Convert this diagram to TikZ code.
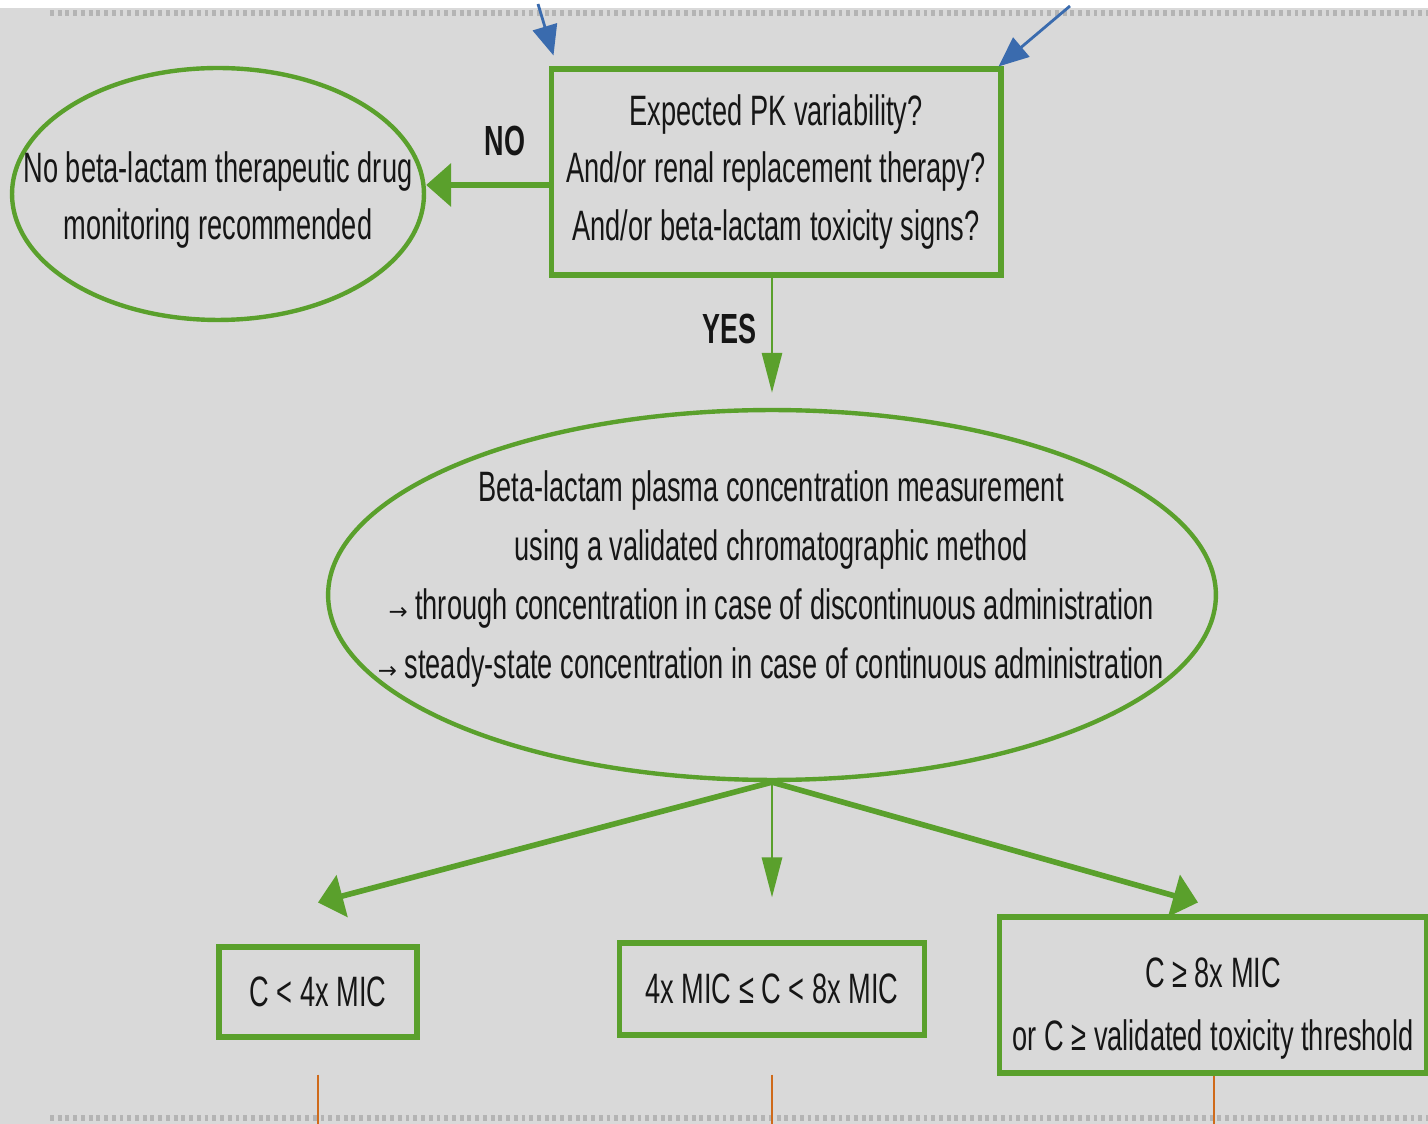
\documentclass[tikz,border=0pt]{standalone}
\usepackage{fontspec}
\setmainfont[FakeStretch=0.64]{Liberation Sans}
\newfontfamily\arrowfont{DejaVu Sans}
\usepackage{tikz}
\usetikzlibrary{shapes.geometric,arrows.meta,positioning,calc}
\definecolor{grn}{HTML}{5AA02C}
\definecolor{bg}{HTML}{D9D9D9}
\definecolor{dots}{HTML}{B4B4B4}
\definecolor{blu}{HTML}{3A6BAE}
\definecolor{org}{HTML}{CF6A1A}
\definecolor{ink}{HTML}{161616}
\newcommand{\ra}{{\arrowfont\fontsize{13}{13}\selectfont →}}

\begin{document}
\begin{tikzpicture}[x=0.02cm,y=-0.02cm,
  t/.style={font=\fontsize{24.2}{32.5}\selectfont,align=center,text=ink},
  q/.style={t,draw=grn,line width=2.9pt,inner sep=0pt},
  oval/.style={ellipse,draw=grn,line width=2.5pt,inner sep=0pt},
  yn/.style={font=\fontsize{24}{26}\selectfont\bfseries,text=ink},
  g/.style={draw=grn,line width=3.2pt,-{Triangle[length=0.5cm,width=0.85cm]}},
  gthin/.style={draw=grn,line width=1.6pt,-{Triangle[length=0.8cm,width=0.4cm]}},
  b/.style={draw=blu,line width=1.6pt,-{Triangle[length=0.6cm,width=0.5cm]}},
  o/.style={draw=org,line width=1.2pt},
  dotline/.style={draw=dots,line width=3.4pt,dash pattern=on 2.2pt off 2.2pt}]

\useasboundingbox (0,0) rectangle (1428,1124);
\fill[white] (0,0) rectangle (1428,8);
\fill[bg] (0,8) rectangle (1428,1124);
\draw[dotline] (50,13) -- (1428,13);
\draw[dotline] (50,1118) -- (1428,1118);

\node[q,minimum width=9cm,minimum height=4.12cm] (ask) at (776,172)
  {Expected PK variability?\\And/or renal replacement therapy?\\And/or beta-lactam toxicity signs?};

\node[oval,minimum width=8.24cm,minimum height=5.04cm] (no) at (218,194) {};
\node[t] (notxt) at (218,200) {No beta-lactam therapeutic drug\\monitoring recommended};

\node[oval,minimum width=17.76cm,minimum height=7.4cm] (tdm) at (772,595) {};
\node[t,font=\fontsize{24.2}{33.5}\selectfont] (tdmtxt) at (771,579)
  {Beta-lactam plasma concentration measurement\\
   using a validated chromatographic method\\
   \ra\ through concentration in case of discontinuous administration\\
   \ra\ steady-state concentration in case of continuous administration};

\node[q,minimum width=3.96cm,minimum height=1.8cm] (lo) at (318,992) {C < 4x MIC};
\node[q,minimum width=6.1cm,minimum height=1.84cm] (mid) at (772,989) {4x MIC ≤ C < 8x MIC};
\node[q,minimum width=8.56cm,minimum height=3.12cm,font=\fontsize{24.2}{36}\selectfont] (hi) at (1213,995)
  {\\[-4pt]C ≥ 8x MIC\\or C ≥ validated toxicity threshold};

\node[yn] (nolbl) at (505,141) {NO};
\node[yn] (yeslbl) at (729,329) {YES};

\draw[g] ([yshift=-0.26cm]ask.west) -- ([yshift=-0.26cm]ask.west -| no.east);
\draw[gthin] (ask.south -| tdm.north) -- ([yshift=0.3cm]tdm.north);
\draw[g] (tdm.south) -- ([yshift=0.84cm]lo.north);
\draw[gthin] (tdm.south) -- ([yshift=0.86cm]mid.north);
\draw[g] (tdm.south) -- ([xshift=-0.3cm,yshift=0.24cm]hi.north);

\coordinate (in1) at (538,4);
\coordinate (in2) at (1070,6);
\draw[b] (in1) -- ([xshift=0.1cm,yshift=0.22cm]ask.north west);
\draw[b] (in2) -- ([xshift=-0.1cm]ask.north east);

\coordinate (out1) at (318,1124);
\coordinate (out2) at (772,1124);
\coordinate (out3) at (1214,1124);
\draw[o] ([yshift=-0.7cm]lo.south) -- (out1);
\draw[o] ([yshift=-0.74cm]mid.south) -- (out2);
\draw[o] (hi.south -| out3) -- (out3);
\end{tikzpicture}
\end{document}
